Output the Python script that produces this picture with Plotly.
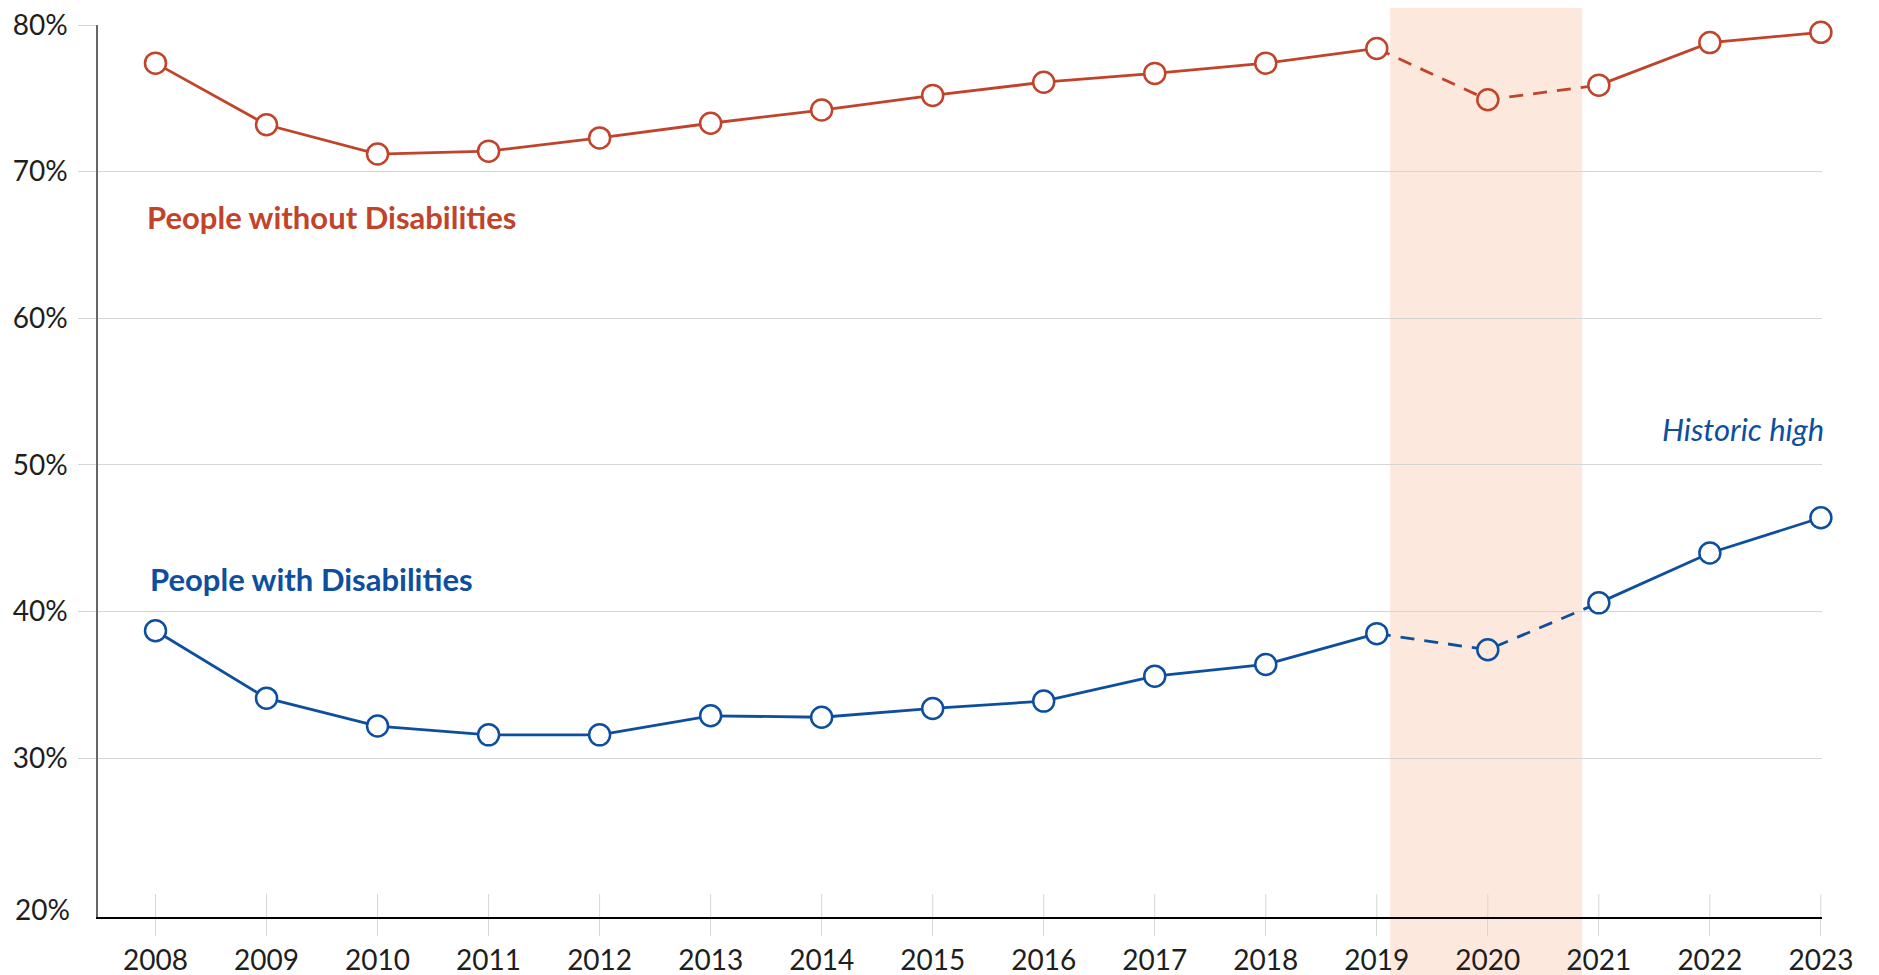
import plotly.graph_objects as go

# ---------------- data ----------------
years = list(range(2008, 2024))
without_disab = [77.4, 73.2, 71.2, 71.4, 72.3, 73.3, 74.2, 75.2, 76.1, 76.7, 77.4, 78.4, 74.9, 75.9, 78.8, 79.5]
with_disab = [38.7, 34.1, 32.2, 31.6, 31.6, 32.9, 32.8, 33.4, 33.9, 35.6, 36.4, 38.5, 37.4, 40.6, 44.0, 46.4]
y_ticks = [30, 40, 50, 60, 70, 80]
y_ticktext = [f"{v}%" for v in y_ticks]
dashed_years = [2019, 2020, 2021]
covid_year = 2020
series_names = ["People without Disabilities", "People with Disabilities"]

# ---------------- style ----------------
RED = "#C1432A"
BLUE = "#0D4F9E"
SHADE = "#FDE8DE"
GRID = "#D6D6D6"
TXT = "#1E1E1E"
FONT = "Lato, 'Source Sans Pro', sans-serif"

PLOT_H = 891.6  # plot height in px (for paper offsets)
PLOT_W = 1724.0

fig = go.Figure()


def add_series(vals, color, name):
    solid = [v if y != covid_year else None for y, v in zip(years, vals)]
    dashed = [v if y in dashed_years else None for y, v in zip(years, vals)]
    fills = [SHADE if y == covid_year else "white" for y in years]
    fig.add_trace(go.Scatter(x=years, y=solid, mode="lines", name=name,
                             line=dict(color=color, width=2.8),
                             connectgaps=False, hoverinfo="skip", cliponaxis=False))
    fig.add_trace(go.Scatter(x=years, y=dashed, mode="lines", name=name,
                             line=dict(color=color, width=2.8, dash="14px,10px"),
                             connectgaps=False, hoverinfo="skip", cliponaxis=False))
    fig.add_trace(go.Scatter(x=years, y=vals, mode="markers", name=name,
                             cliponaxis=False,
                             marker=dict(size=21, color=fills,
                                         line=dict(color=color, width=2.5))))


add_series(without_disab, RED, series_names[0])
add_series(with_disab, BLUE, series_names[1])

# shaded 2020 band
fig.add_shape(type="rect", xref="x", yref="paper", x0=2019.12, x1=2020.85,
              y0=-70 / PLOT_H, y1=1 + 25 / PLOT_H, fillcolor=SHADE,
              line=dict(width=0), layer="below")

# upper part of the crossing x ticks
for yr in years:
    fig.add_shape(type="line", xref="x", yref="paper", x0=yr, x1=yr,
                  y0=0, y1=23 / PLOT_H, line=dict(color=GRID, width=1),
                  layer="below")

# labels
fig.add_annotation(text="<b>People without Disabilities</b>", xref="paper", yref="paper",
                   x=0.0275, y=0.785, xanchor="left", yanchor="middle", showarrow=False,
                   font=dict(family=FONT, size=31, color=RED))
fig.add_annotation(text="<b>People with Disabilities</b>", xref="paper", yref="paper",
                   x=0.0292, y=0.379, xanchor="left", yanchor="middle", showarrow=False,
                   font=dict(family=FONT, size=31, color=BLUE))
fig.add_annotation(text="<i>Historic high</i>", xref="paper", yref="paper",
                   x=1.0025, y=0.547, xanchor="right", yanchor="middle", showarrow=False,
                   font=dict(family=FONT, size=31, color=BLUE))
# bottom y label (no gridline at 20%)
fig.add_annotation(text="20%", xref="paper", yref="y", x=-26.5 / PLOT_W, y=20,
                   xanchor="right", yanchor="middle", yshift=-4, showarrow=False,
                   font=dict(family=FONT, size=28, color=TXT))

fig.update_layout(
    width=1879, height=975,
    margin=dict(l=90, r=65, t=17, b=66, autoexpand=False),
    plot_bgcolor="white", paper_bgcolor="white",
    showlegend=False,
    font=dict(family=FONT, color=TXT),
    xaxis=dict(range=[2007.482, 2023.01], tickmode="array", tickvals=years,
               ticktext=[str(y) for y in years], ticks="outside", ticklen=17,
               tickcolor=GRID, tickwidth=1, showgrid=False, zeroline=False,
               showline=True, linecolor="black", linewidth=1.5, automargin=False,
               tickfont=dict(family=FONT, size=28, color=TXT),
               ticklabelstandoff=1, ticklabeloverflow="allow"),
    yaxis=dict(range=[19.18, 80], tickmode="array", tickvals=y_ticks,
               ticktext=y_ticktext, ticks="outside", ticklen=18, tickcolor=GRID,
               tickwidth=1, showgrid=True, gridcolor=GRID, gridwidth=1,
               zeroline=False, showline=True, linecolor="#666666", linewidth=1.5,
               automargin=False, ticklabeloverflow="allow",
               tickfont=dict(family=FONT, size=28, color=TXT),
               ticklabelstandoff=5),
)

fig.write_html("out.html")
